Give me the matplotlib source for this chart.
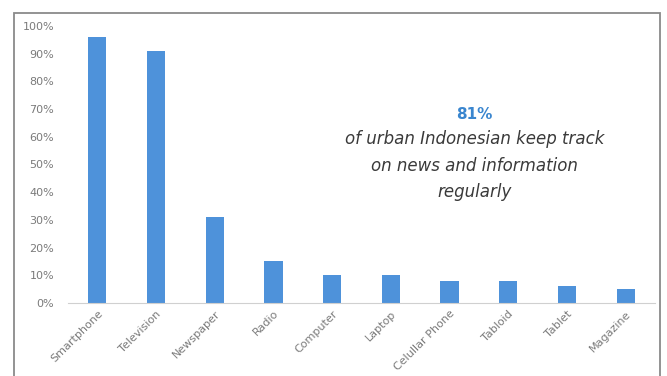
import matplotlib.pyplot as plt
from matplotlib.patches import Rectangle
from matplotlib.ticker import PercentFormatter, MultipleLocator

# Media used to keep track of news (share of urban respondents)
media = ["Smartphone", "Television", "Newspaper", "Radio", "Computer",
         "Laptop", "Celullar Phone", "Tabloid", "Tablet", "Magazine"]
share = [96, 91, 31, 15, 10, 10, 8, 8, 6, 5]

headline = "81%"
caption = "of urban Indonesian keep track\non news and information\nregularly"

bar_color = "#4e92da"
tick_color = "#7a7a7a"

fig = plt.figure(figsize=(6.67, 3.76), dpi=100)
ax = fig.add_axes([0.102, 0.194, 0.880, 0.737])

x = range(len(media))
ax.bar(x, share, width=0.31, color=bar_color)

ax.set_xlim(-0.5, len(media) - 0.5)
ax.set_ylim(0, 100)
ax.yaxis.set_major_locator(MultipleLocator(10))
ax.yaxis.set_major_formatter(PercentFormatter(decimals=0))
ax.set_xticks(list(x))
ax.set_xticklabels(media, rotation=45, ha="right", rotation_mode="anchor")
ax.tick_params(axis="both", length=0, labelsize=8, colors=tick_color)
ax.tick_params(axis="x", pad=4)
ax.tick_params(axis="y", pad=10)

for side in ("top", "right", "left"):
    ax.spines[side].set_visible(False)
ax.spines["bottom"].set_color("#d0d0d0")

# annotation block
ax.text(0.693, 0.682, headline, transform=ax.transAxes, ha="center",
        va="center", fontsize=11, fontweight="bold", color="#3a86cf")
ax.text(0.693, 0.495, caption, transform=ax.transAxes, ha="center",
        va="center", fontsize=12, style="italic", color="#3a3a3a",
        linespacing=1.6)

# outer frame
fig.patches.append(Rectangle((0.021, -0.05), 0.969, 1.015,
                             transform=fig.transFigure, fill=False,
                             edgecolor="#8a8a8a", linewidth=1.3))

fig.savefig("out.png", dpi=100)
